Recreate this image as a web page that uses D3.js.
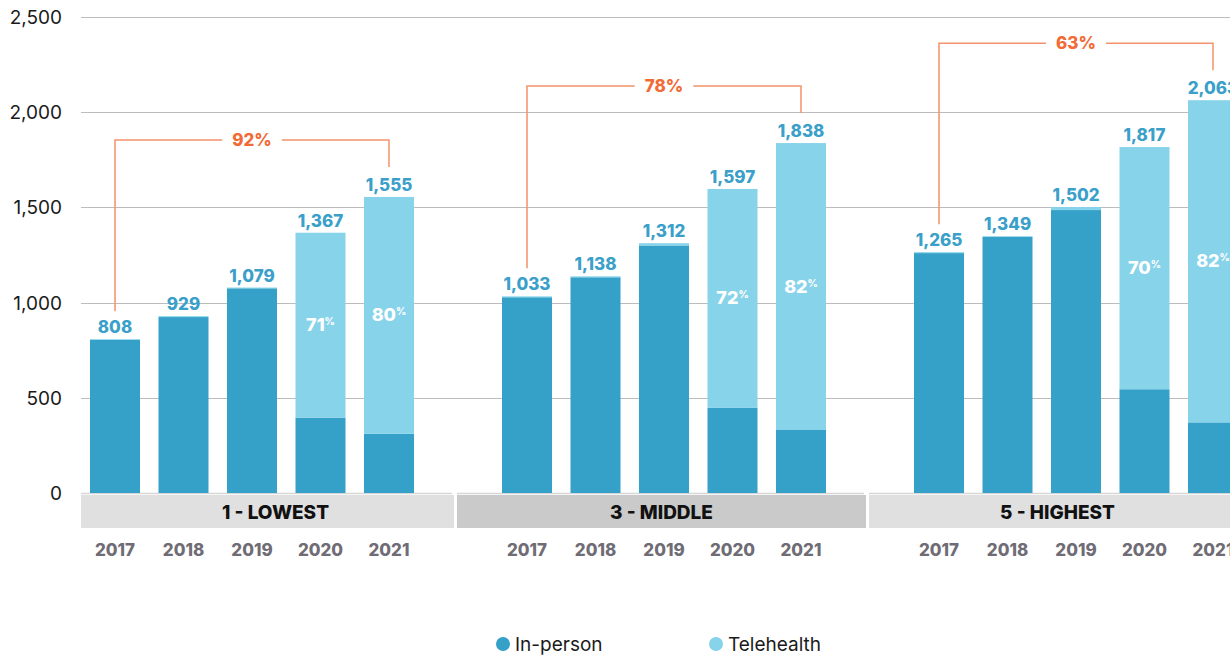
<!DOCTYPE html>
<html lang="en">
<head>
  <meta charset="utf-8">
  <title>In-person vs telehealth visits</title>
  <script src="https://cdn.jsdelivr.net/npm/d3@7"></script>
  <style type="text/css">
    body { margin: 0; background: #fff; }
    svg text { font-family: Inter, "Liberation Sans", sans-serif; }
  </style>
</head>
<body>
  <script type="text/javascript">
    // chart data
    var groups = ["1 - LOWEST", "3 - MIDDLE", "5 - HIGHEST"];
    var years = ["2017", "2018", "2019", "2020", "2021"];
    var totals = [
      [808, 929, 1079, 1367, 1555],
      [1033, 1138, 1312, 1597, 1838],
      [1265, 1349, 1502, 1817, 2063]
    ];
    var telehealth = [
      [4, 5, 4, 971, 1244],
      [5, 5, 12, 1150, 1507],
      [5, 4, 16, 1272, 1692]
    ];
    var telePct = [
      [null, null, null, "71", "80"],
      [null, null, null, "72", "82"],
      [null, null, null, "70", "82"]
    ];
    var growth = ["92%", "78%", "63%"];
    var yTicks = [0, 500, 1000, 1500, 2000, 2500];
    var seriesNames = ["In-person", "Telehealth"];

    var W = 1230, H = 655;
    var colInPerson = "#35a0c8", colTele = "#87d3ea";
    var orange = "#f26a35", orangeLine = "#f4936b";
    var fmt = d3.format(",");

    var svg = d3.select("body").append("svg")
      .attr("width", W)
      .attr("height", H);

    var y = d3.scaleLinear().domain([0, 2500]).range([493, 17]);

    // outer scale for the groups, inner scale for the years
    var x0 = d3.scaleBand().domain(groups).range([45, 45 + 3 * 412]).paddingInner(0);
    var x1 = d3.scaleBand().domain(years).range([45, 369]).paddingInner(0.27).paddingOuter(0);

    // gridlines
    svg.append("g").selectAll("line")
      .data(yTicks.filter(function (d) { return d > 0; }))
      .enter().append("line")
      .attr("x1", 81).attr("x2", W)
      .attr("y1", function (d) { return Math.round(y(d)) + 0.5; })
      .attr("y2", function (d) { return Math.round(y(d)) + 0.5; })
      .attr("stroke", "#bcbcbc").attr("stroke-width", 1);

    // y labels
    svg.append("g").selectAll("text")
      .data(yTicks)
      .enter().append("text")
      .attr("x", 62)
      .attr("y", function (d) { return y(d) + 7; })
      .attr("text-anchor", "end")
      .attr("font-size", 19)
      .attr("fill", "#1a1a1a")
      .text(function (d) { return fmt(d); });

    var bandFill = ["#e0e0e0", "#cacaca", "#e0e0e0"];

    groups.forEach(function (g, gi) {
      var gx = x0(g);
      var gEl = svg.append("g");
      var left = Math.max(81, gx), right = gx + 409;
      var visL = left, visR = Math.min(W, right);
      var clipped = (visL !== gx || visR !== right);

      // baseline
      gEl.append("line")
        .attr("x1", left).attr("x2", right - 2)
        .attr("y1", 493.5).attr("y2", 493.5)
        .attr("stroke", "#d6d6d6").attr("stroke-width", 1.5);

      // group label band
      gEl.append("rect")
        .attr("x", left).attr("y", 495)
        .attr("width", right - left).attr("height", 33)
        .attr("fill", bandFill[gi]);
      gEl.append("text")
        .attr("x", (visL + visR) / 2 + (clipped ? 8 : 0))
        .attr("y", 519)
        .attr("text-anchor", "middle")
        .attr("font-size", 19).attr("font-weight", 800)
        .attr("fill", "#111")
        .text(g);

      years.forEach(function (yr, i) {
        var bx = gx + x1(yr);
        var tot = totals[gi][i], tele = telehealth[gi][i], inp = tot - tele;
        var cx = bx + x1.bandwidth() / 2;

        gEl.append("rect")
          .attr("x", bx).attr("width", x1.bandwidth())
          .attr("y", y(inp)).attr("height", y(0) - y(inp))
          .attr("fill", colInPerson);
        gEl.append("rect")
          .attr("x", bx).attr("width", x1.bandwidth())
          .attr("y", y(tot)).attr("height", y(inp) - y(tot))
          .attr("fill", colTele);

        // totals
        gEl.append("text")
          .attr("x", cx).attr("y", y(tot) - 6)
          .attr("text-anchor", "middle")
          .attr("font-size", 17).attr("font-weight", 800)
          .attr("fill", "#3aa0c9")
          .text(fmt(tot));

        // telehealth share
        if (telePct[gi][i]) {
          var t = gEl.append("text")
            .attr("x", cx).attr("y", (y(tot) + y(inp)) / 2 + 6)
            .attr("text-anchor", "middle")
            .attr("font-size", 18).attr("font-weight", 800)
            .attr("fill", "#fff");
          t.append("tspan").text(telePct[gi][i]);
          t.append("tspan").attr("font-size", 10).attr("dy", -6).text("%");
        }

        // year labels
        svg.append("text")
          .attr("x", cx).attr("y", 556)
          .attr("text-anchor", "middle")
          .attr("font-size", 17).attr("font-weight", 800)
          .attr("fill", "#6f6c75")
          .text(yr);
      });

      // growth bracket from 2017 to 2021
      var xa = gx + x1(years[0]) + x1.bandwidth() / 2;
      var xb = gx + x1(years[4]) + x1.bandwidth() / 2;
      var ya = y(totals[gi][0]) - 28;
      var yb = y(totals[gi][4]) - 30;
      var yh = y(totals[gi][4]) - 57;
      var xm = (xa + xb) / 2;

      var lbl = gEl.append("text")
        .attr("x", xm).attr("y", yh + 6)
        .attr("text-anchor", "middle")
        .attr("font-size", 17).attr("font-weight", 800)
        .attr("fill", orange)
        .text(growth[gi]);
      var half = lbl.node().getComputedTextLength() / 2 + 10;

      gEl.append("path")
        .attr("d", "M" + xa + "," + ya + "V" + yh + "H" + (xm - half))
        .attr("fill", "none").attr("stroke", orangeLine).attr("stroke-width", 1.5);
      gEl.append("path")
        .attr("d", "M" + (xm + half) + "," + yh + "H" + xb + "V" + yb)
        .attr("fill", "none").attr("stroke", orangeLine).attr("stroke-width", 1.5);
    });

    // legend
    var legend = svg.append("g");
    var legX = [503, 716];
    seriesNames.forEach(function (s, i) {
      legend.append("circle")
        .attr("cx", legX[i]).attr("cy", 644).attr("r", 7)
        .attr("fill", i === 0 ? colInPerson : colTele);
      legend.append("text")
        .attr("x", legX[i] + 12).attr("y", 651)
        .attr("font-size", 19)
        .attr("fill", "#1a1a1a")
        .text(s);
    });
  </script>
</body>
</html>
